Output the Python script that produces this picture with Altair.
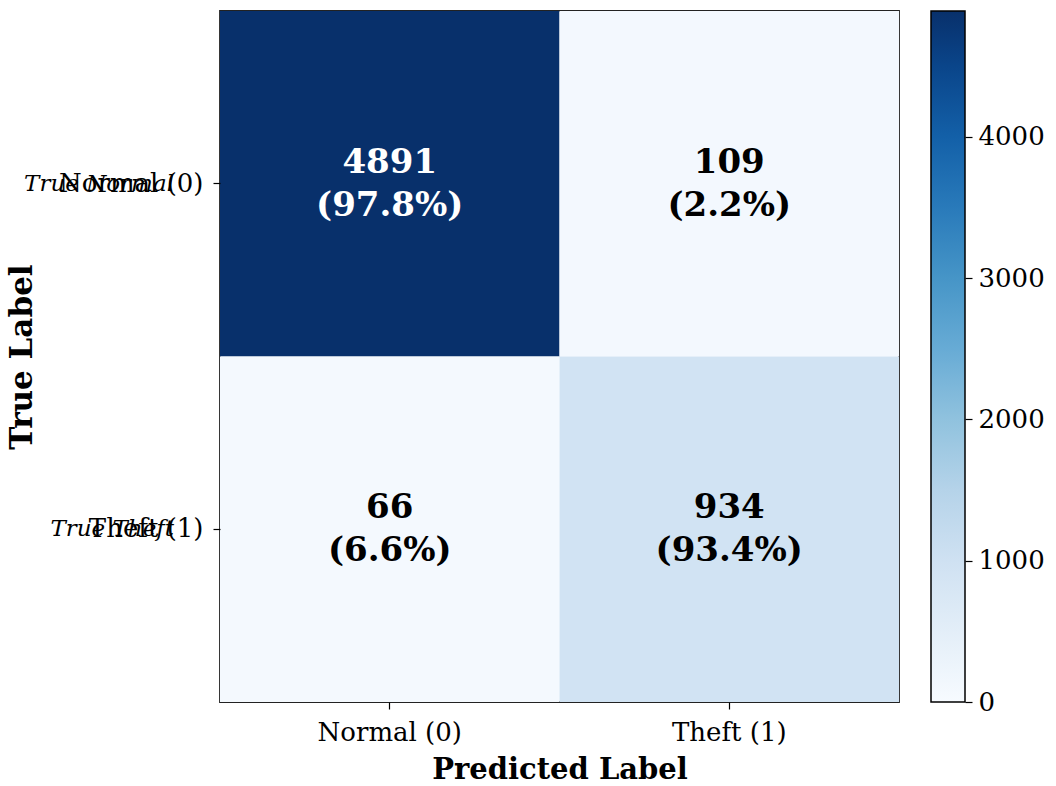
import altair as alt
import numpy as np
import pandas as pd

# Confusion matrix values
categories = ["Normal (0)", "Theft (1)"]
true_labels = ["Normal (0)", "Normal (0)", "Theft (1)", "Theft (1)"]
pred_labels = ["Normal (0)", "Theft (1)", "Normal (0)", "Theft (1)"]
counts = [4891, 109, 66, 934]

# Italic row captions drawn over the row tick labels
row_captions = ["True Normal", "True Theft"]

# Colour bar ticks
cbar_ticks = [0, 1000, 2000, 3000, 4000]

# Matplotlib "Blues" colour stops
blues = ["#f7fbff", "#deebf7", "#c6dbef", "#9ecae1", "#6baed6",
         "#4292c6", "#2171b5", "#08519c", "#08306b"]

FONT = "DejaVu Serif"

df = pd.DataFrame({"true": true_labels, "pred": pred_labels, "count": counts})
row_tot = df.groupby("true")["count"].transform("sum")
df["pct"] = (df["count"] / row_tot * 100).round(1)
df["label"] = df["count"].astype(str) + "\n(" + df["pct"].map(lambda v: f"{v:.1f}") + "%)"
vmax = max(counts)

cap_df = pd.DataFrame({"true": categories, "cap": row_captions})

color_domain = list(np.linspace(0, vmax, len(blues)))

x_enc = alt.X("pred:N", sort=categories, title="Predicted Label",
              scale=alt.Scale(domain=categories, paddingInner=0, paddingOuter=0),
              axis=alt.Axis(labelAngle=0, tickSize=7, labelPadding=10,
                            titlePadding=10, titleFontSize=29))
y_enc = alt.Y("true:N", sort=categories, title="True Label",
              scale=alt.Scale(domain=categories, paddingInner=0, paddingOuter=0),
              axis=alt.Axis(tickSize=7, labelPadding=10, titlePadding=20,
                            titleFontSize=31))

heat = alt.Chart(df).mark_rect().encode(
    x=x_enc,
    y=y_enc,
    color=alt.Color("count:Q",
                    scale=alt.Scale(domain=color_domain, range=blues),
                    legend=alt.Legend(orient="none", direction="vertical",
                                      legendX=711, legendY=0, title=None,
                                      gradientLength=691, gradientThickness=34,
                                      gradientStrokeColor="black",
                                      gradientStrokeWidth=1.5,
                                      labelExpr="''", padding=0)),
)

cell_text = alt.Chart(df).mark_text(
    font=FONT, fontSize=34, fontWeight="bold", lineBreak="\n",
    lineHeight=43, baseline="middle", align="center", dy=-21,
).encode(
    x=x_enc, y=y_enc, text="label:N",
    color=alt.condition(alt.datum["count"] > vmax / 2,
                        alt.value("white"), alt.value("black")),
)

captions = alt.Chart(cap_df).mark_text(
    font=FONT, fontSize=23, fontStyle="italic", align="right",
    baseline="middle", color="black",
).encode(y=y_enc, x=alt.value(-46), text="cap:N")

matrix = alt.layer(heat, cell_text, captions)

# Invisible layer carrying the colour bar's tick axis
cbar_axis = alt.Chart(pd.DataFrame({"count": cbar_ticks})).mark_point(opacity=0).encode(
    y=alt.Y("count:Q", title=None,
            scale=alt.Scale(domain=[0, vmax], nice=False),
            axis=alt.Axis(orient="right", offset=66, values=cbar_ticks,
                          format="d", tickSize=7, labelPadding=6,
                          domain=False, grid=False))
)

chart = alt.layer(matrix, cbar_axis).resolve_scale(
    y="independent"
).properties(
    width=679, height=691,
    autosize=alt.AutoSizeParams(type="none"),
    padding={"left": 220, "top": 11, "right": 157, "bottom": 84},
).configure_view(
    stroke="#222222", strokeWidth=1.8,
).configure_axis(
    labelFont=FONT, labelFontSize=26, labelColor="black",
    titleFont=FONT, titleFontWeight="bold", titleColor="black",
    tickColor="black", tickWidth=1.2, domain=False, grid=False,
)

chart.save("out.html", embed_options={"renderer": "svg", "actions": False})
